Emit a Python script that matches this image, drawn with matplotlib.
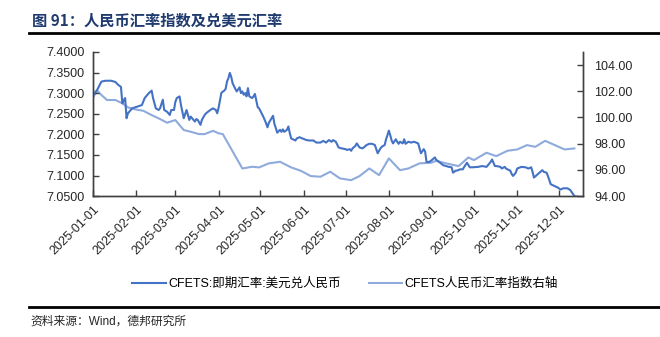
import numpy as np
import pandas as pd
import matplotlib
matplotlib.use('Agg')
import matplotlib.pyplot as plt
import matplotlib.dates as mdates

plt.rcParams['font.family'] = ['Liberation Sans', 'Noto Sans CJK SC']
plt.rcParams['axes.unicode_minus'] = False

# CFETS:即期汇率:美元兑人民币 (left axis)
usd_dates = ['2025-01-01', '2025-01-04', '2025-01-07', '2025-01-10', '2025-01-14', '2025-01-17',
             '2025-01-19', '2025-01-21', '2025-01-22', '2025-01-23', '2025-01-24', '2025-01-25',
             '2025-01-26', '2025-01-29', '2025-02-05', '2025-02-07', '2025-02-10', '2025-02-12',
             '2025-02-13', '2025-02-15', '2025-02-17', '2025-02-18', '2025-02-20', '2025-02-21',
             '2025-02-23', '2025-02-25', '2025-02-26', '2025-02-28', '2025-03-01', '2025-03-02',
             '2025-03-04', '2025-03-05', '2025-03-07', '2025-03-09', '2025-03-11', '2025-03-12',
             '2025-03-13', '2025-03-15', '2025-03-16', '2025-03-17', '2025-03-19', '2025-03-20',
             '2025-03-22', '2025-03-23', '2025-03-26', '2025-03-28', '2025-03-30', '2025-03-31',
             '2025-04-01', '2025-04-03', '2025-04-05', '2025-04-06', '2025-04-07', '2025-04-08',
             '2025-04-09', '2025-04-10', '2025-04-11', '2025-04-13', '2025-04-14', '2025-04-16',
             '2025-04-17', '2025-04-18', '2025-04-19', '2025-04-20', '2025-04-21', '2025-04-22',
             '2025-04-23', '2025-04-25', '2025-04-26', '2025-04-27', '2025-04-29', '2025-04-30',
             '2025-05-03', '2025-05-05', '2025-05-06', '2025-05-07', '2025-05-09', '2025-05-10',
             '2025-05-11', '2025-05-12', '2025-05-13', '2025-05-15', '2025-05-16', '2025-05-17',
             '2025-05-18', '2025-05-20', '2025-05-21', '2025-05-22', '2025-05-23', '2025-05-26',
             '2025-05-27', '2025-05-29', '2025-05-31', '2025-06-03', '2025-06-05', '2025-06-08',
             '2025-06-10', '2025-06-13', '2025-06-15', '2025-06-17', '2025-06-19', '2025-06-21',
             '2025-06-22', '2025-06-24', '2025-06-26', '2025-06-28', '2025-07-01', '2025-07-02',
             '2025-07-04', '2025-07-05', '2025-07-06', '2025-07-08', '2025-07-09', '2025-07-11',
             '2025-07-13', '2025-07-14', '2025-07-16', '2025-07-18', '2025-07-20', '2025-07-22',
             '2025-07-23', '2025-07-24', '2025-07-26', '2025-07-27', '2025-07-29', '2025-07-30',
             '2025-07-31', '2025-08-01', '2025-08-02', '2025-08-03', '2025-08-04', '2025-08-06',
             '2025-08-07', '2025-08-08', '2025-08-09', '2025-08-11', '2025-08-12', '2025-08-13',
             '2025-08-15', '2025-08-17', '2025-08-19', '2025-08-22', '2025-08-23', '2025-08-24',
             '2025-08-26', '2025-08-27', '2025-08-28', '2025-08-30', '2025-09-01', '2025-09-03',
             '2025-09-04', '2025-09-06', '2025-09-09', '2025-09-11', '2025-09-13', '2025-09-15',
             '2025-09-16', '2025-09-18', '2025-09-19', '2025-09-21', '2025-09-23', '2025-09-24',
             '2025-09-26', '2025-09-28', '2025-09-30', '2025-10-04', '2025-10-07', '2025-10-10',
             '2025-10-11', '2025-10-13', '2025-10-14', '2025-10-16', '2025-10-17', '2025-10-20',
             '2025-10-21', '2025-10-23', '2025-10-24', '2025-10-25', '2025-10-27', '2025-10-28',
             '2025-10-29', '2025-10-31', '2025-11-01', '2025-11-04', '2025-11-07', '2025-11-09',
             '2025-11-11', '2025-11-12', '2025-11-13', '2025-11-15', '2025-11-17', '2025-11-19',
             '2025-11-20', '2025-11-22', '2025-11-23', '2025-11-25', '2025-11-28', '2025-11-30',
             '2025-12-02', '2025-12-04', '2025-12-07', '2025-12-09', '2025-12-11', '2025-12-12',
             '2025-12-15']
usd_cny = [7.296, 7.308, 7.328, 7.330, 7.330, 7.327, 7.320, 7.315, 7.275, 7.283, 7.288, 7.239,
           7.251, 7.263, 7.271, 7.288, 7.300, 7.306, 7.288, 7.263, 7.259, 7.263, 7.284, 7.259,
           7.255, 7.247, 7.259, 7.259, 7.279, 7.288, 7.292, 7.271, 7.239, 7.259, 7.235, 7.243,
           7.239, 7.231, 7.237, 7.235, 7.223, 7.235, 7.247, 7.251, 7.259, 7.263, 7.259, 7.251,
           7.265, 7.301, 7.306, 7.310, 7.328, 7.336, 7.349, 7.340, 7.324, 7.310, 7.304, 7.314,
           7.300, 7.304, 7.296, 7.300, 7.292, 7.312, 7.292, 7.288, 7.292, 7.298, 7.266, 7.263,
           7.243, 7.227, 7.217, 7.228, 7.239, 7.245, 7.225, 7.215, 7.204, 7.211, 7.206, 7.212,
           7.206, 7.211, 7.219, 7.203, 7.190, 7.185, 7.190, 7.193, 7.190, 7.186, 7.185, 7.185,
           7.180, 7.180, 7.184, 7.180, 7.186, 7.182, 7.186, 7.182, 7.168, 7.166, 7.164, 7.162,
           7.164, 7.160, 7.166, 7.172, 7.178, 7.168, 7.166, 7.168, 7.174, 7.177, 7.177, 7.174,
           7.164, 7.154, 7.166, 7.170, 7.174, 7.188, 7.198, 7.209, 7.198, 7.185, 7.178, 7.188,
           7.182, 7.177, 7.182, 7.178, 7.188, 7.177, 7.182, 7.180, 7.182, 7.178, 7.166, 7.154,
           7.164, 7.158, 7.133, 7.133, 7.138, 7.144, 7.138, 7.133, 7.125, 7.123, 7.121, 7.120,
           7.107, 7.112, 7.112, 7.115, 7.115, 7.121, 7.131, 7.120, 7.120, 7.121, 7.123, 7.121,
           7.125, 7.133, 7.139, 7.123, 7.123, 7.121, 7.117, 7.121, 7.117, 7.115, 7.112, 7.104,
           7.099, 7.107, 7.117, 7.121, 7.120, 7.117, 7.120, 7.109, 7.095, 7.101, 7.107, 7.113,
           7.109, 7.107, 7.099, 7.079, 7.074, 7.071, 7.066, 7.069, 7.069, 7.065, 7.055, 7.050,
           7.048]

# CFETS人民币汇率指数 (right axis)
idx_dates = ['2025-01-01', '2025-01-04', '2025-01-07', '2025-01-11', '2025-01-17', '2025-01-22',
             '2025-01-26', '2025-01-31', '2025-02-06', '2025-02-12', '2025-02-18', '2025-02-23',
             '2025-03-01', '2025-03-07', '2025-03-12', '2025-03-18', '2025-03-22', '2025-03-28',
             '2025-04-01', '2025-04-04', '2025-04-18', '2025-04-25', '2025-04-30', '2025-05-07',
             '2025-05-15', '2025-05-23', '2025-05-30', '2025-06-06', '2025-06-13', '2025-06-20',
             '2025-06-27', '2025-07-05', '2025-07-11', '2025-07-18', '2025-07-25', '2025-08-01',
             '2025-08-09', '2025-08-15', '2025-08-23', '2025-08-31', '2025-09-04', '2025-09-11',
             '2025-09-20', '2025-09-27', '2025-10-01', '2025-10-10', '2025-10-17', '2025-10-25',
             '2025-11-01', '2025-11-08', '2025-11-14', '2025-11-21', '2025-11-28', '2025-12-05',
             '2025-12-12']
cfets_idx = [101.53, 102.04, 101.71, 101.33, 101.33, 101.08, 100.77, 100.62, 100.51, 100.18,
             99.88, 99.60, 99.80, 99.04, 98.91, 98.73, 98.73, 98.98, 98.79, 98.73, 96.11, 96.24,
             96.19, 96.50, 96.62, 96.19, 95.93, 95.53, 95.48, 95.86, 95.35, 95.22, 95.53, 96.11,
             95.60, 96.88, 95.98, 96.11, 96.50, 96.54, 96.69, 96.50, 96.29, 96.95, 96.75, 97.31,
             97.05, 97.46, 97.56, 97.89, 97.76, 98.22, 97.89, 97.56, 97.64]

tick_dates = ['2025-01-01', '2025-02-01', '2025-03-01', '2025-04-01', '2025-05-01', '2025-06-01',
              '2025-07-01', '2025-08-01', '2025-09-01', '2025-10-01', '2025-11-01', '2025-12-01']

dark = '#4472C4'
light = '#8FAADC'

fig = plt.figure(figsize=(6.6, 3.37), dpi=100)
ax = fig.add_axes([0.141, 0.418, 0.742, 0.428])
ax2 = ax.twinx()

ax.plot(pd.to_datetime(usd_dates), usd_cny, c=dark, lw=1.5, label='CFETS:即期汇率:美元兑人民币')
ax2.plot(pd.to_datetime(idx_dates), cfets_idx, c=light, lw=1.5, label='CFETS人民币汇率指数右轴')

ax.set_xlim(pd.Timestamp('2025-01-01'), pd.Timestamp('2025-12-18'))
ax.set_ylim(7.05, 7.40)
ax.set_yticks(np.arange(7.05, 7.401, 0.05))
ax.yaxis.set_major_formatter(matplotlib.ticker.FormatStrFormatter('%.4f'))
ax2.set_ylim(94, 105)
ax2.set_yticks(np.arange(94, 104.1, 2))
ax2.yaxis.set_major_formatter(matplotlib.ticker.FormatStrFormatter('%.2f'))

ax.set_xticks(pd.to_datetime(tick_dates))
ax.xaxis.set_major_formatter(mdates.DateFormatter('%Y-%m-%d'))
for lab in ax.get_xticklabels():
    lab.set_rotation(45)
    lab.set_ha('right')
    lab.set_rotation_mode('anchor')

for a in (ax, ax2):
    a.spines['top'].set_visible(False)
    for s in ('left', 'right', 'bottom'):
        a.spines[s].set_color('#404040')
        a.spines[s].set_linewidth(1.0)
    a.tick_params(direction='in', length=4, width=1, color='#404040', labelsize=9, labelcolor='#262626')
ax.tick_params(axis='x', pad=5)
ax.tick_params(axis='y', pad=6)
ax2.tick_params(axis='y', pad=8)
ax.set_zorder(ax2.get_zorder() + 1)
ax.patch.set_visible(False)

h1, l1 = ax.get_legend_handles_labels()
h2, l2 = ax2.get_legend_handles_labels()
fig.legend(h1 + h2, l1 + l2, loc='center', bbox_to_anchor=(0.523, 0.157), ncol=2,
           frameon=False, fontsize=9, handlelength=2.7, columnspacing=2.2, handletextpad=0.2)

# title and footer
fig.text(0.048, 0.94, '图 91：人民币汇率指数及兑美元汇率', fontsize=11, fontweight='bold',
         color='#1F3A6E', va='center', family=['Noto Sans CJK SC', 'DejaVu Sans'])
fig.add_artist(plt.Line2D([0.044, 1.0], [0.902, 0.902], color='black', lw=2, transform=fig.transFigure))
fig.add_artist(plt.Line2D([0.044, 1.0], [0.089, 0.089], color='black', lw=2, transform=fig.transFigure))
fig.text(0.046, 0.045, '资料来源：Wind，德邦研究所', fontsize=8.5, color='#262626', va='center')

fig.savefig('out.png', dpi=100)
